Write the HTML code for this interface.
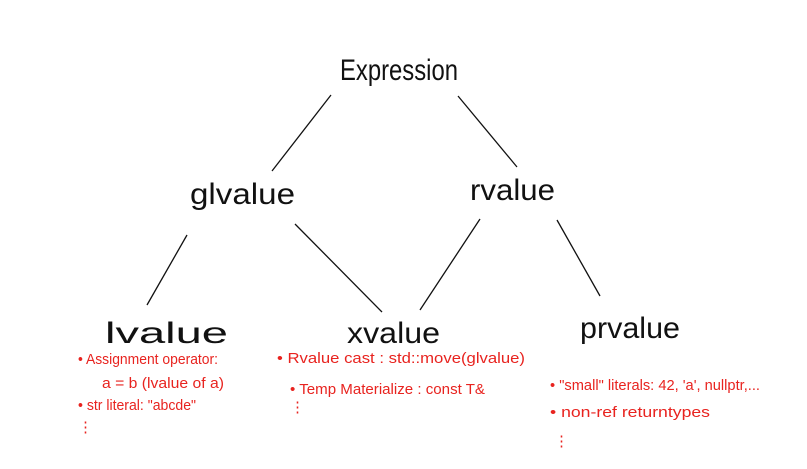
<!DOCTYPE html>
<html><head><style>
html,body{margin:0;padding:0;background:#fff;}
svg{display:block;}
text{font-family:"Liberation Sans",sans-serif;}
.b{fill:#111;font-size:30px;}
.r{fill:#e8231f;font-size:15px;}
</style></head><body>
<svg width="807" height="469" viewBox="0 0 807 469" xmlns="http://www.w3.org/2000/svg">
<g stroke="#111" stroke-width="1.3" fill="none">
<line x1="331" y1="95" x2="272" y2="171"/>
<line x1="458" y1="96" x2="517" y2="167"/>
<line x1="187" y1="235" x2="147" y2="305"/>
<line x1="295" y1="224" x2="382" y2="312"/>
<line x1="480" y1="219" x2="420" y2="310"/>
<line x1="557" y1="220" x2="600" y2="296"/>
</g>
<g class="b" lengthAdjust="spacingAndGlyphs">
<text x="340" y="80" textLength="118" lengthAdjust="spacingAndGlyphs">Expression</text>
<text x="190" y="204" textLength="105" lengthAdjust="spacingAndGlyphs">glvalue</text>
<text x="470" y="200" textLength="85" lengthAdjust="spacingAndGlyphs">rvalue</text>
<text x="105" y="343" textLength="123" lengthAdjust="spacingAndGlyphs">lvalue</text>
<text x="347" y="343" textLength="93" lengthAdjust="spacingAndGlyphs">xvalue</text>
<text x="580" y="338" textLength="100" lengthAdjust="spacingAndGlyphs">prvalue</text>
</g>
<g class="r">
<text x="78" y="364" textLength="140" lengthAdjust="spacingAndGlyphs">• Assignment operator:</text>
<text x="102" y="388" textLength="122" lengthAdjust="spacingAndGlyphs">a = b  (lvalue of a)</text>
<text x="78" y="410" textLength="118" lengthAdjust="spacingAndGlyphs">• str literal: "abcde"</text>
<text x="78" y="432">⋮</text>
<text x="277" y="363" textLength="248" lengthAdjust="spacingAndGlyphs">• Rvalue cast : std::move(glvalue)</text>
<text x="290" y="394" textLength="195" lengthAdjust="spacingAndGlyphs">• Temp Materialize : const T&amp;</text>
<text x="290" y="412">⋮</text>
<text x="550" y="390" textLength="210" lengthAdjust="spacingAndGlyphs">• "small" literals: 42, 'a', nullptr,...</text>
<text x="550" y="417" textLength="160" lengthAdjust="spacingAndGlyphs">• non-ref returntypes</text>
<text x="554" y="446">⋮</text>
</g>
</svg>
</body></html>
